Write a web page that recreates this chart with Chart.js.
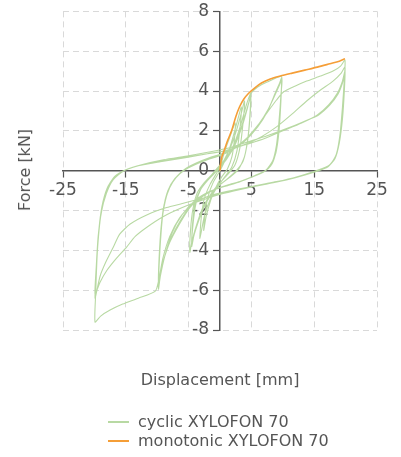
<!DOCTYPE html>
<html>
<head>
<meta charset="utf-8">
<script src="https://cdn.jsdelivr.net/npm/chart.js"></script>
<style>
  body { margin: 0; background: #fff; }
  #wrap { position: relative; width: 401px; height: 457px; font-family: "DejaVu Sans", sans-serif; color: #555; }
  #c { position: absolute; left: 0; top: 0; }
  .title { position: absolute; font-size: 16px; line-height: 20px; white-space: nowrap; }
  #xTitle { left: 220px; top: 370px; transform: translateX(-50%); }
  #yTitle { left: 25px; top: 170px; transform: translate(-50%, -50%) rotate(-90deg); }
  #legend { position: absolute; left: 108px; top: 412px; font-size: 16px; line-height: 19px; }
  .item { display: flex; align-items: center; white-space: nowrap; }
  .swatch { width: 21px; height: 2px; margin-right: 9px; }
</style>
</head>
<body>
<div id="wrap">
  <canvas id="c" width="401" height="457"></canvas>
  <div class="title" id="xTitle">Displacement [mm]</div>
  <div class="title" id="yTitle">Force [kN]</div>
  <div id="legend"></div>
</div>
<script>
// monotonic test, [displacement mm, force kN]
const monotonic = [
  [0, 0], [0.1, 0.35], [0.3, 0.7], [0.7, 1.05], [1.2, 1.5], [1.9, 2.05], [2.5, 2.7],
  [3.1, 3.2], [3.8, 3.6], [4.6, 3.9], [5.5, 4.15], [6.6, 4.4], [8, 4.6], [9.6, 4.75],
  [11.5, 4.9], [13.5, 5.05], [15.5, 5.2], [17.5, 5.37], [19, 5.5], [19.9, 5.62]
];

// cyclic test, split by amplitude stage
const cyclicSmall = [
  [0, 0], [0.4, 0.6], [1.0, 1.2], [1.7, 1.8], [2.4, 2.4],
  [2.3, 1.6], [1.9, 0.7], [1.2, 0.1], [0.3, -0.3], [-0.6, -0.8], [-1.5, -1.5], [-2.2, -2.3], [-2.6, -3.0],
  [-2.4, -2.2], [-1.9, -1.3], [-1.1, -0.6], [0, 0], [0.9, 0.6], [1.8, 1.4], [2.6, 2.3], [3.4, 3.2],
  [3.2, 2.2], [2.7, 1.0], [1.9, 0.2], [0.8, -0.3], [-0.4, -0.8], [-1.5, -1.4], [-2.5, -2.3], [-3.2, -3.4],
  [-3.0, -2.4], [-2.5, -1.4], [-1.6, -0.7], [-0.5, -0.1], [0.6, 0.5], [1.7, 1.2], [2.6, 2.0], [3.4, 2.9], [3.9, 3.5],
  [3.7, 2.5], [3.2, 1.2], [2.4, 0.3], [1.2, -0.2], [0, -0.6], [-1.3, -1.1], [-2.5, -1.8], [-3.5, -2.6], [-4.1, -3.2], [-4.5, -3.7],
  [-4.3, -2.7], [-3.8, -1.6], [-3.0, -0.9], [-1.8, -0.4], [-0.5, 0.1], [0.9, 0.6], [2.2, 1.3], [3.3, 2.3], [4.2, 3.3], [4.9, 3.9]
];

const cyclic5 = [
  [4.8, 3.0], [4.5, 1.8], [3.9, 0.7], [2.9, 0.05], [1.5, -0.35], [0, -0.7], [-1.5, -1.2], [-2.8, -1.9], [-3.8, -2.8], [-4.5, -3.6], [-4.8, -4.1],
  [-4.7, -3.0], [-4.3, -1.9], [-3.6, -1.1], [-2.5, -0.6], [-1, -0.1], [0.5, 0.4], [2, 1.1], [3.2, 2.0], [4.2, 3.0], [4.9, 3.7],
  [4.8, 2.8], [4.4, 1.5], [3.7, 0.5], [2.6, 0], [1.2, -0.4], [-0.3, -0.8], [-1.8, -1.4], [-3.1, -2.2], [-4.0, -3.0], [-4.5, -3.8],
  [-4.4, -2.8], [-4.0, -1.7], [-3.2, -1.0], [-2, -0.5], [-0.5, 0], [1, 0.55], [2.4, 1.3], [3.6, 2.3], [4.5, 3.3], [5.0, 3.9],
  [6, 4.2], [7.5, 4.45], [9.8, 4.72]
];

const cyclic10 = [
  [9.7, 3.8], [9.4, 2.5], [9.0, 1.3], [8.4, 0.5], [7.4, 0.05], [6, -0.2], [4, -0.45], [2, -0.65], [0, -0.85],
  [-2, -1.1], [-4, -1.5], [-6, -2.2], [-7.6, -3.1], [-8.8, -4.3], [-9.5, -5.3], [-9.8, -5.95],
  [-9.7, -4.8], [-9.4, -3.2], [-9.0, -1.9], [-8.3, -1.0], [-7.2, -0.4], [-5.8, 0], [-4, 0.3], [-2, 0.55], [0, 0.75],
  [2, 1.05], [4, 1.5], [6, 2.2], [7.6, 3.0], [8.8, 3.9], [9.5, 4.4], [9.8, 4.65],
  [9.7, 3.6], [9.4, 2.2], [9.0, 1.1], [8.3, 0.35], [7.2, 0], [5.5, -0.25], [3.5, -0.5], [1.5, -0.7], [-0.5, -0.9],
  [-2.5, -1.2], [-4.5, -1.7], [-6.3, -2.5], [-7.8, -3.4], [-8.9, -4.4], [-9.5, -5.2], [-9.8, -5.7],
  [-9.7, -4.5], [-9.4, -3.0], [-8.9, -1.8], [-8.1, -0.9], [-7, -0.35], [-5.6, 0.05], [-3.8, 0.35], [-1.8, 0.6], [0.2, 0.8],
  [2.2, 1.1], [4.2, 1.6], [6.1, 2.3], [7.7, 3.1], [8.9, 3.9], [9.6, 4.4], [9.8, 4.6],
  [9.7, 3.5], [9.4, 2.0], [8.9, 0.9], [8.1, 0.25], [7, -0.05], [5.2, -0.3], [3.2, -0.55], [1.2, -0.75], [-0.8, -0.95],
  [-2.8, -1.3], [-4.8, -1.85], [-6.5, -2.7], [-8, -3.6], [-9, -4.5], [-9.5, -5.1], [-9.8, -5.6],
  [-9.7, -4.4], [-9.4, -2.9], [-8.9, -1.7], [-8.0, -0.85], [-6.9, -0.3], [-5.5, 0.1], [-3.7, 0.4], [-1.7, 0.65], [0.3, 0.85],
  [2.3, 1.15], [4.3, 1.65], [6.2, 2.35], [7.7, 3.0], [9, 3.55], [10.1, 3.95], [12, 4.25], [13.8, 4.5], [16, 4.75],
  [18, 5.0], [19.2, 5.25], [19.9, 5.55]
];

const cyclic20 = [
  [19.8, 4.6], [19.5, 3.2], [19.1, 1.8], [18.5, 0.8], [17.5, 0.3], [15.5, 0], [12.5, -0.3], [9, -0.55], [5, -0.8],
  [1, -1.05], [-2, -1.3], [-4.5, -1.7], [-6.5, -2.4], [-8, -3.3], [-9.1, -4.4], [-9.7, -5.4], [-10.3, -6.05],
  [-13, -6.4], [-15.5, -6.7], [-17.5, -7.0], [-19, -7.3], [-19.9, -7.6],
  [-19.8, -6.2], [-19.6, -4.5], [-19.3, -3.0], [-18.8, -1.8], [-18, -0.9], [-16.8, -0.3], [-15, 0.05], [-12.5, 0.3],
  [-9, 0.5], [-5, 0.7], [-2, 0.85], [0, 0.95], [3, 1.2], [6, 1.6], [9, 2.2], [11.5, 2.85], [13.8, 3.5], [16, 4.05],
  [18, 4.5], [19.3, 4.9], [19.9, 5.2],
  [19.8, 4.2], [19.5, 2.8], [19.1, 1.6], [18.4, 0.7], [17.3, 0.25], [15.3, 0], [12.3, -0.3], [9, -0.55], [5, -0.8],
  [1, -1.1], [-3, -1.4], [-6, -1.65], [-8.5, -1.85], [-11.5, -2.2], [-14.3, -2.68], [-16, -3.2], [-17, -3.85],
  [-18.2, -4.6], [-19.1, -5.3], [-19.9, -6.4],
  [-19.7, -5.0], [-19.4, -3.5], [-19, -2.3], [-18.3, -1.3], [-17.3, -0.55], [-15.6, -0.05], [-13, 0.25], [-9.5, 0.45],
  [-5.5, 0.65], [-2, 0.85], [1, 1.0], [4, 1.3], [7, 1.6], [10, 2.0], [13, 2.4], [15.5, 2.8], [17.3, 3.3], [18.7, 3.9],
  [19.5, 4.5], [19.9, 5.0],
  [19.8, 4.0], [19.5, 2.6], [19, 1.4], [18.3, 0.6], [17.2, 0.2], [15.2, -0.05], [12, -0.35], [8.5, -0.6], [4.5, -0.85],
  [0.5, -1.15], [-3, -1.5], [-6, -1.85], [-9, -2.3], [-11.7, -2.85], [-13.5, -3.3], [-14.9, -3.85], [-16.5, -4.4],
  [-18, -5.0], [-19.1, -5.6], [-19.9, -6.2],
  [-19.7, -4.8], [-19.4, -3.3], [-18.9, -2.1], [-18.1, -1.15], [-17, -0.45], [-15.3, 0], [-12.5, 0.3], [-9, 0.55],
  [-5, 0.75], [-1.5, 0.95], [1.5, 1.15], [4.5, 1.45], [7.5, 1.75], [10.5, 2.1], [13.2, 2.45], [15.7, 2.8], [17.5, 3.3],
  [18.8, 3.85], [19.5, 4.4], [19.9, 4.9]
];

const xTicks = [-25, -15, -5, 5, 15, 25];
const yTicks = [-8, -6, -4, -2, 0, 2, 4, 6, 8];

const GREEN = "rgb(184, 217, 163)";
const ORANGE = "rgb(245, 158, 55)";
const GREY = "#555";

function toPoints(arr) {
  return arr.map(function (p) { return { x: p[0], y: p[1] }; });
}

const cyclicPoints = toPoints([].concat(cyclicSmall, cyclic5, cyclic10, cyclic20));
const monoPoints = toPoints(monotonic);

var ctx = document.getElementById("c").getContext("2d");
var chart = new Chart(ctx, {
  type: "scatter",
  data: {
    datasets: [
      {
        label: "cyclic XYLOFON 70",
        data: cyclicPoints,
        showLine: true,
        borderColor: GREEN,
        borderWidth: 1.1,
        pointRadius: 0,
        tension: 0.2,
        order: 2,
      },
      {
        label: "monotonic XYLOFON 70",
        data: monoPoints,
        showLine: true,
        borderColor: ORANGE,
        borderWidth: 1.6,
        pointRadius: 0,
        tension: 0.3,
        order: 1,
      },
    ],
  },
  options: {
    responsive: false,
    animation: false,
    layout: { padding: { left: 63, right: 24, top: 11, bottom: 127 } },
    plugins: { legend: { display: false }, tooltip: { enabled: false } },
    scales: {
      x: {
        type: "linear",
        position: "center",
        min: -25,
        max: 25,
        afterBuildTicks: function (axis) {
          axis.ticks = xTicks.map(function (v) { return { value: v }; });
        },
        ticks: { color: GREY, font: { family: "DejaVu Sans", size: 17 }, padding: 4, maxRotation: 0 },
        grid: { color: "#d9d9d9", lineWidth: 1, tickLength: 6, tickColor: GREY, tickWidth: 1.2 },
        border: { color: GREY, width: 1.5, dash: [6, 4] },
      },
      y: {
        type: "linear",
        position: "center",
        min: -8,
        max: 8,
        afterBuildTicks: function (axis) {
          axis.ticks = yTicks.map(function (v) { return { value: v }; });
        },
        ticks: { color: GREY, font: { family: "DejaVu Sans", size: 17, lineHeight: 0.75 }, padding: 5 },
        grid: { color: "#d9d9d9", lineWidth: 1, tickLength: 6, tickColor: GREY, tickWidth: 1.2 },
        border: { color: GREY, width: 1.5, dash: [6, 4] },
      },
    },
  },
});

// legend, stacked like the original
var legend = document.getElementById("legend");
chart.data.datasets.forEach(function (ds) {
  var row = document.createElement("div");
  row.className = "item";
  var sw = document.createElement("span");
  sw.className = "swatch";
  sw.style.background = ds.borderColor;
  var txt = document.createElement("span");
  txt.textContent = ds.label;
  row.appendChild(sw);
  row.appendChild(txt);
  legend.appendChild(row);
});
</script>
</body>
</html>
